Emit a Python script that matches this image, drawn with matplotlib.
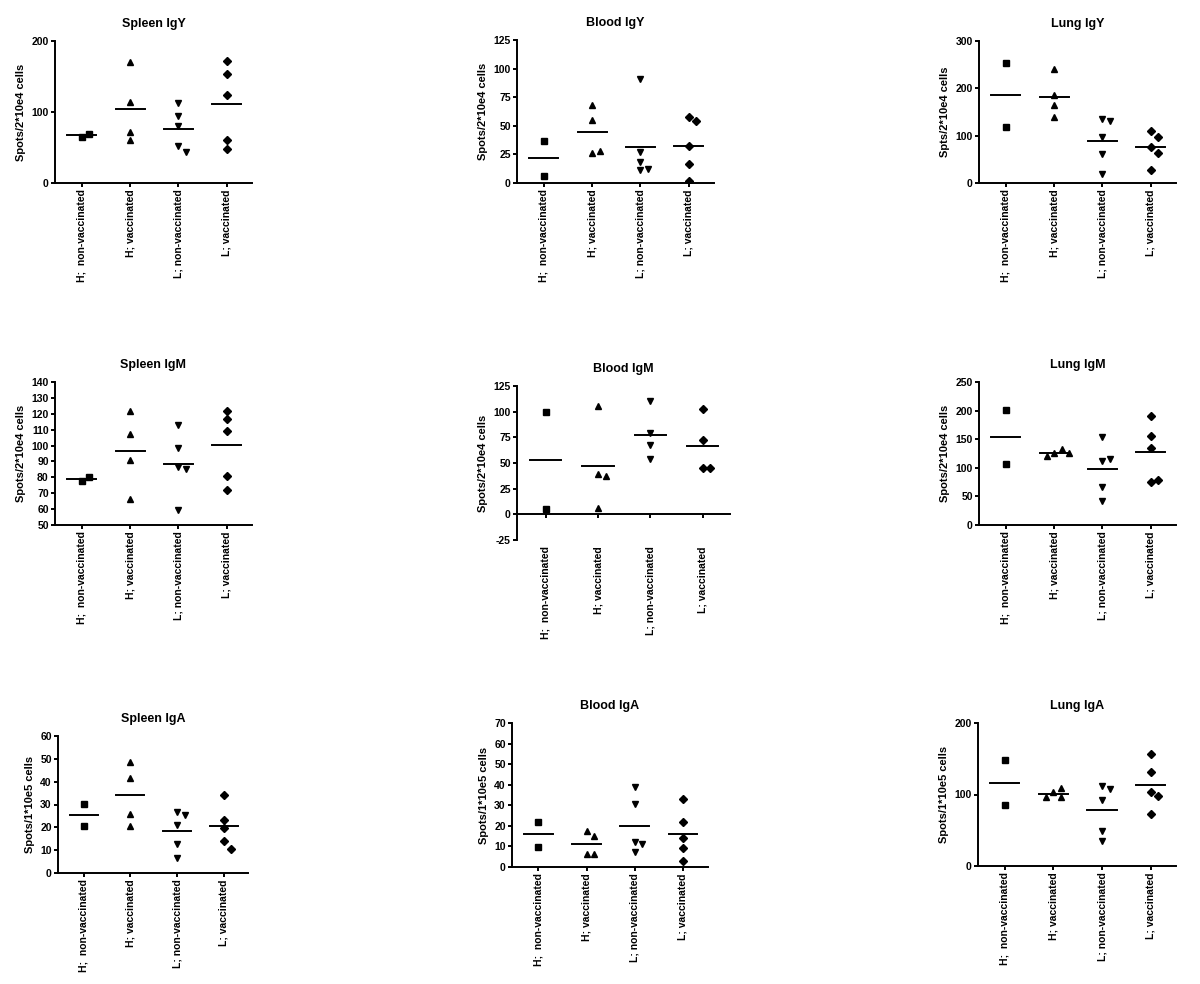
#!/usr/bin/env python3
# coding:utf8

import matplotlib
matplotlib.use('Agg')
from matplotlib import pyplot as plt
import numpy as np

plt.rcParams['font.family'] = ['Liberation Sans', 'DejaVu Sans']
plt.rcParams['font.weight'] = 'bold'

groups = ['H;  non-vaccinated', 'H; vaccinated', 'L; non-vaccinated', 'L; vaccinated']
markers = ['s', '^', 'v', 'D']

# values read per group, in the order of `groups`
spleen_igy = [[65, 69], [170, 114, 72, 60], [113, 94, 80, 52, 43], [172, 153, 124, 60, 48]]
blood_igy = [[37, 6], [68, 55, 26, 28], [91, 27, 18, 11, 12], [58, 54, 32, 17, 2]]
lung_igy = [[254, 119], [240, 186, 164, 140], [136, 130, 97, 62, 18], [110, 98, 76, 64, 28]]

spleen_igm = [[77.5, 80.5], [121.5, 107, 91, 66.5], [113, 98.5, 86.5, 85, 59.5], [122, 117, 109, 81, 72]]
blood_igm = [[100, 5], [106, 39, 37, 6.5], [110, 79, 67.5, 53.5], [103, 72, 45.5, 45.5]]
lung_igm = [[201, 106], [126, 133, 120, 125], [154, 112, 115, 67, 42], [191, 155, 134, 76, 79]]

spleen_iga = [[30.4, 20.7], [48.8, 41.6, 25.7, 20.6], [26.7, 25.5, 20.9, 12.6, 6.7], [34.3, 23.2, 19.9, 13.9, 10.7]]
blood_iga = [[21.7, 9.9], [17.3, 15, 6.2, 6.2], [38.9, 30.8, 12, 11.4, 7.2], [33.2, 21.7, 14.3, 9.1, 2.8]]
lung_iga = [[148, 85], [103, 108.5, 97, 97], [112, 108, 92, 48.5, 34.5], [157, 132, 103.5, 97.5, 73]]

ylabel_e4 = 'Spots/2*10e4 cells'
ylabel_e5 = 'Spots/1*10e5 cells'

# (title, data, ylabel, ylim, yticks, box in pixels: left, right, top, bottom)
panels = [
    ('Spleen IgY', spleen_igy, ylabel_e4, (0, 200), np.arange(0, 201, 100), (55, 252, 41, 183)),
    ('Blood IgY', blood_igy, ylabel_e4, (0, 125), np.arange(0, 126, 25), (517, 714, 40, 183)),
    ('Lung IgY', lung_igy, 'Spts/2*10e4 cells', (0, 300), np.arange(0, 301, 100), (979, 1176, 41, 183)),
    ('Spleen IgM', spleen_igm, ylabel_e4, (50, 140), np.arange(50, 141, 10), (55, 252, 382, 525)),
    ('Blood IgM', blood_igm, ylabel_e4, (-25, 125), np.arange(-25, 126, 25), (517, 730, 386, 540)),
    ('Lung IgM', lung_igm, ylabel_e4, (0, 250), np.arange(0, 251, 50), (979, 1176, 382, 525)),
    ('Spleen IgA', spleen_iga, ylabel_e5, (0, 60), np.arange(0, 61, 10), (58, 248, 736, 873)),
    ('Blood IgA', blood_iga, ylabel_e5, (0, 70), np.arange(0, 71, 10), (512, 708, 723, 867)),
    ('Lung IgA', lung_iga, ylabel_e5, (0, 200), np.arange(0, 201, 100), (978, 1176, 723, 866)),
]

W, H = 1200, 984


def swarm(ax, xc, values, d=7.5):
    """
    spread points that would overlap sideways, like a column scatter
    :return: x positions in data units
    """
    placed = []
    xs = []
    inv = ax.transData.inverted()
    for v in values:
        px, py = ax.transData.transform((xc, v))
        cx = px
        for k in [0, 1, -1, 2, -2, 3, -3]:
            cx = px + k * d
            if all((cx - qx) ** 2 + (py - qy) ** 2 >= d * d for qx, qy in placed):
                break
        placed.append((cx, py))
        xs.append(inv.transform((cx, py))[0])
    return xs


fig = plt.figure(figsize=(W / 100, H / 100), dpi=100)

for title, data, ylabel, ylim, yticks, box in panels:
    left, right, top, bottom = box
    ax = fig.add_axes([left / W, 1 - bottom / H, (right - left) / W, (bottom - top) / H])

    for side in ['top', 'right']:
        ax.spines[side].set_visible(False)
    for side in ['left', 'bottom']:
        ax.spines[side].set_linewidth(1.4)
    if ylim[0] < 0:
        # x axis drawn through zero (this resets the ticks, so do it first)
        ax.spines['bottom'].set_position(('data', 0))

    ax.set_xlim(-0.55, 3.52)
    ax.set_ylim(*ylim)
    ax.set_yticks(yticks)
    ax.set_yticklabels([str(t) for t in yticks], fontsize=7.5, fontweight='bold')
    ax.set_xticks(range(len(groups)))
    ax.set_xticklabels(groups, rotation=90, va='top', fontsize=7.5, fontweight='bold')
    ax.tick_params(axis='both', length=3, width=1.4, pad=1.5)
    if ylim[0] < 0:
        # labels kept under the plot, not under the zero line
        ax.tick_params(axis='x', pad=20)

    for i, values in enumerate(data):
        xs = swarm(ax, i, values)
        ax.plot(xs, values, linestyle='none', marker=markers[i], color='black',
                markersize=3.6 if markers[i] == 'D' else 4.6)
        m = np.mean(values)
        ax.plot([i - 0.3, i + 0.3], [m, m], color='black', linewidth=1.4)

    ax.set_title(title, fontsize=9, fontweight='bold', pad=10)
    ax.set_ylabel(ylabel, fontsize=8, fontweight='bold', labelpad=4)

fig.savefig('out.png', dpi=100)
